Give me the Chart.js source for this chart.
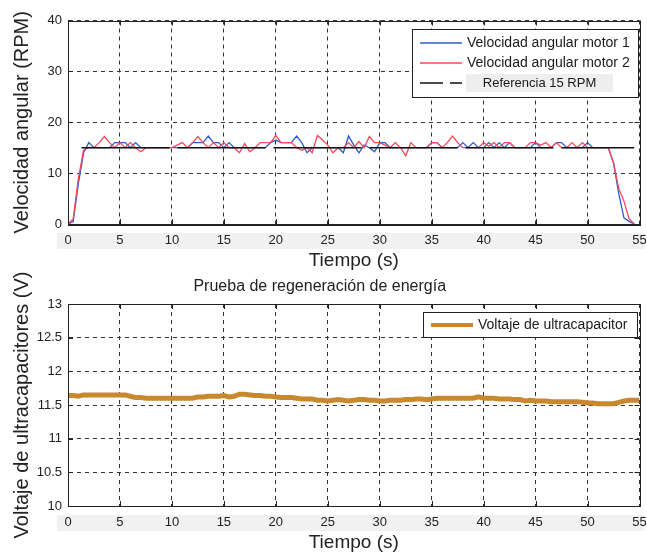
<!DOCTYPE html>
<html>
<head>
<meta charset="utf-8">
<script src="https://cdn.jsdelivr.net/npm/chart.js@4.4.0/dist/chart.umd.min.js"></script>
<style>
  body { margin: 0; background: #fff; }
  #wrap { position: relative; width: 647px; height: 554px; }
  .panel { position: absolute; left: 0; width: 647px; }
  #top { top: 0; height: 272px; }
  #bot { top: 272px; height: 282px; }
</style>
</head>
<body>
<div id="wrap">
  <div class="panel" id="top"><canvas id="velocidadChart"></canvas></div>
  <div class="panel" id="bot"><canvas id="voltajeChart"></canvas></div>
</div>
<script>
// muestreo cada 0.5 s
var paso = 0.5;

var motor1 = [
  0, 0.5, 8, 14, 16, 15, 15, 15, 15, 16,
  16, 16, 15, 16, 15, 15, 15, 15, 15, 15,
  15, 15, 15, 15, 16, 16, 16, 17.3, 16, 16,
  15, 16, 15, 15, 15, 15, 15, 15, 15, 16,
  16.5, 16, 16, 16, 17.3, 16, 14, 15, 15, 15,
  15, 15, 15, 14, 17.3, 15.5, 14, 15.5, 15, 14.2,
  16, 16, 15, 15, 15, 15, 15, 15, 15, 15,
  16, 16, 15, 15, 15, 15, 16, 15, 16, 15,
  15, 16, 15, 16, 15, 16, 15, 15, 15, 15,
  16, 15, 15, 15, 16, 16, 15, 15, 15, 15,
  16, 15, 15, 15, 15, 12, 6, 1.2, 0.5, 0
];
var motor2 = [
  0, 1, 9, 14.5, 15, 15, 16, 17.2, 16, 15,
  16, 15, 16, 15, 14.2, 15, 15, 15, 15, 15,
  15, 15.5, 16, 15, 16, 17.2, 16, 15, 16, 15,
  16, 15, 15, 14, 15.8, 14.2, 15, 16, 16, 16,
  17.4, 16, 16, 16, 15, 14.5, 15, 14, 17.4, 16.5,
  15.5, 14, 15, 15, 16, 15, 16.2, 15, 17.2, 16,
  16, 15.5, 15, 16, 15, 13.4, 16, 15, 15, 15,
  16, 16, 15, 16, 17.3, 16, 15, 15, 15, 15,
  16, 15.3, 16, 15, 16, 16, 15, 15, 15, 16,
  16, 15.5, 16, 15, 16, 15, 15, 16, 15, 16,
  15, 15, 15, 15, 15, 12, 7, 4.5, 1, 0
];
var refTiempo = [1.3, 54.5];
var refValor = [15, 15];

var voltaje = [
  11.64, 11.64, 11.63, 11.65, 11.65, 11.65, 11.65, 11.65, 11.65, 11.65,
  11.65, 11.65, 11.63, 11.61, 11.61, 11.60, 11.60, 11.60, 11.60, 11.60,
  11.60, 11.60, 11.60, 11.60, 11.60, 11.62, 11.62, 11.63, 11.63, 11.63,
  11.64, 11.62, 11.63, 11.66, 11.66, 11.65, 11.64, 11.64, 11.63, 11.63,
  11.62, 11.61, 11.61, 11.61, 11.60, 11.59, 11.59, 11.59, 11.57, 11.57,
  11.56, 11.57, 11.58, 11.57, 11.56, 11.57, 11.58, 11.58, 11.57, 11.57,
  11.56, 11.56, 11.57, 11.57, 11.57, 11.58, 11.58, 11.59, 11.59, 11.58,
  11.59, 11.60, 11.60, 11.60, 11.60, 11.60, 11.60, 11.60, 11.60, 11.62,
  11.60, 11.60, 11.60, 11.59, 11.59, 11.59, 11.58, 11.58, 11.56, 11.57,
  11.56, 11.56, 11.56, 11.55, 11.55, 11.55, 11.55, 11.55, 11.55, 11.54,
  11.53, 11.53, 11.52, 11.52, 11.52, 11.52, 11.54, 11.56, 11.57, 11.57,
  11.57
];

var xTicks = [0, 5, 10, 15, 20, 25, 30, 35, 40, 45, 50, 55];
var velTicks = [0, 10, 20, 30, 40];
var voltTicks = [10, 10.5, 11, 11.5, 12, 12.5, 13];

function puntos(valores) {
  return valores.map(function (v, i) { return { x: i * paso, y: v }; });
}

Chart.defaults.font.family = "'Liberation Sans', Arial, sans-serif";
Chart.defaults.color = '#222';

// banda gris detras de las etiquetas del eje x
var bandaTicks = {
  id: 'bandaTicks',
  beforeDraw: function (chart) {
    var a = chart.chartArea, ctx = chart.ctx;
    ctx.save();
    ctx.fillStyle = '#f1f1f1';
    ctx.fillRect(a.left - 11, a.bottom + 9, a.right - a.left + 16, 16);
    ctx.restore();
  }
};

// caja completa con marcas hacia adentro
var marco = {
  id: 'marco',
  afterDraw: function (chart) {
    var a = chart.chartArea, ctx = chart.ctx;
    var xs = chart.scales.x, ys = chart.scales.y;
    ctx.save();
    ctx.strokeStyle = '#222';
    ctx.lineWidth = 1;
    ctx.strokeRect(Math.round(a.left) + 0.5, Math.round(a.top) + 0.5, Math.round(a.right - a.left), Math.round(a.bottom - a.top));
    ctx.beginPath();
    xs.ticks.forEach(function (t) {
      var px = Math.round(xs.getPixelForValue(t.value)) + 0.5;
      ctx.moveTo(px, a.bottom); ctx.lineTo(px, a.bottom - 5);
      ctx.moveTo(px, a.top); ctx.lineTo(px, a.top + 5);
    });
    ys.ticks.forEach(function (t) {
      var py = Math.round(ys.getPixelForValue(t.value)) + 0.5;
      ctx.moveTo(a.left, py); ctx.lineTo(a.left + 5, py);
      ctx.moveTo(a.right, py); ctx.lineTo(a.right - 5, py);
    });
    ctx.stroke();
    ctx.restore();
  }
};

// leyenda dentro del area de trazado
var leyendaInterna = {
  id: 'leyendaInterna',
  afterDraw: function (chart, args, o) {
    var ctx = chart.ctx, a = chart.chartArea;
    var x = Math.round(a.right - o.right - o.width), y = Math.round(a.top + o.top);
    ctx.save();
    ctx.fillStyle = '#fff';
    ctx.fillRect(x, y, o.width, o.height);
    ctx.strokeStyle = '#222';
    ctx.lineWidth = 1;
    ctx.strokeRect(x + 0.5, y + 0.5, o.width, o.height);
    ctx.textBaseline = 'middle';
    chart.data.datasets.forEach(function (ds, i) {
      var fila = y + o.firstRow + i * o.rowGap;
      var txtX = x + 55;
      ctx.font = (ds.legendFont || o.font);
      if (ds.legendBg) {
        ctx.fillStyle = ds.legendBg;
        ctx.fillRect(x + 54, fila - 9, 147, 18);
        txtX = x + 54 + (147 - ctx.measureText(ds.label).width) / 2;
      }
      ctx.strokeStyle = ds.borderColor;
      ctx.lineWidth = o.lineWidth || ds.borderWidth;
      ctx.setLineDash(ds.legendDash || []);
      ctx.beginPath();
      ctx.moveTo(x + 8, fila);
      ctx.lineTo(x + 50, fila);
      ctx.stroke();
      ctx.setLineDash([]);
      ctx.fillStyle = '#1a1a1a';
      ctx.fillText(ds.label, txtX, fila);
    });
    ctx.restore();
  }
};

function ejeX() {
  return {
    type: 'linear', min: 0, max: 55,
    afterBuildTicks: function (s) { s.ticks = xTicks.map(function (v) { return { value: v }; }); },
    afterFit: function (s) { s.height = 48; s.paddingLeft = 0; s.paddingRight = 0; },
    ticks: { padding: 9, font: { size: 13 }, color: '#222' },
    grid: { color: '#333', drawTicks: false },
    border: { color: '#222', dash: [4, 4] },
    title: { display: true, text: 'Tiempo (s)', font: { size: 19, lineHeight: 1 }, color: '#222', padding: { top: 0, bottom: 2 } }
  };
}

function ejeY(min, max, ticks, texto) {
  return {
    min: min, max: max,
    afterBuildTicks: function (s) { s.ticks = ticks.map(function (v) { return { value: v }; }); },
    afterFit: function (s) { s.width = 68; s.paddingTop = 0; s.paddingBottom = 0; },
    ticks: { padding: 6, font: { size: 13 }, color: '#222', callback: function (v) { return String(v); } },
    grid: { color: '#333', drawTicks: false },
    border: { color: '#222', dash: [4, 4] },
    title: { display: true, text: texto, font: { size: 20, lineHeight: 1 }, color: '#222', padding: { top: 12, bottom: 0 } }
  };
}

new Chart(document.getElementById('velocidadChart'), {
  type: 'line',
  data: {
    datasets: [
      { label: 'Velocidad angular motor 1', data: puntos(motor1), borderColor: '#2c5cc8', borderWidth: 1.3, order: 3 },
      { label: 'Velocidad angular motor 2', data: puntos(motor2), borderColor: '#f8485a', borderWidth: 1.3, order: 2 },
      {
        label: 'Referencia 15 RPM',
        data: refTiempo.map(function (t, i) { return { x: t, y: refValor[i] }; }),
        borderColor: '#111', borderWidth: 1.6, borderDash: [88, 8], order: 1,
        legendDash: [23, 7], legendBg: '#eeeeee', legendFont: "13px 'Liberation Sans', Arial, sans-serif"
      }
    ]
  },
  options: {
    responsive: true,
    maintainAspectRatio: false,
    animation: false,
    devicePixelRatio: 1,
    layout: { padding: { top: 20.5, right: 7.5, left: 0, bottom: 0 } },
    elements: { point: { radius: 0 }, line: { tension: 0 } },
    scales: { x: ejeX(), y: ejeY(0, 40, velTicks, 'Velocidad angular (RPM)') },
    plugins: {
      legend: { display: false },
      tooltip: { enabled: false },
      leyendaInterna: { right: 2, top: 8.5, width: 226, height: 68, firstRow: 14, rowGap: 20, font: "14px 'Liberation Sans', Arial, sans-serif" }
    }
  },
  plugins: [bandaTicks, marco, leyendaInterna]
});

new Chart(document.getElementById('voltajeChart'), {
  type: 'line',
  data: {
    datasets: [
      { label: 'Voltaje de ultracapacitor', data: puntos(voltaje), borderColor: '#c8882e', borderWidth: 5 }
    ]
  },
  options: {
    responsive: true,
    maintainAspectRatio: false,
    animation: false,
    devicePixelRatio: 1,
    layout: { padding: { top: 0, right: 7.5, left: 0, bottom: 0 } },
    elements: { point: { radius: 0 }, line: { tension: 0 } },
    scales: { x: ejeX(), y: ejeY(10, 13, voltTicks, 'Voltaje de ultracapacitores (V)') },
    plugins: {
      legend: { display: false },
      tooltip: { enabled: false },
      title: {
        display: true, text: 'Prueba de regeneración de energía',
        font: { size: 16, weight: 'normal' }, color: '#222', padding: { top: 5, bottom: 7.8 }
      },
      leyendaInterna: { right: 3, top: 8, width: 214, height: 25, firstRow: 13, rowGap: 20, lineWidth: 4, font: "14px 'Liberation Sans', Arial, sans-serif" }
    }
  },
  plugins: [bandaTicks, marco, leyendaInterna]
});
</script>
</body>
</html>
